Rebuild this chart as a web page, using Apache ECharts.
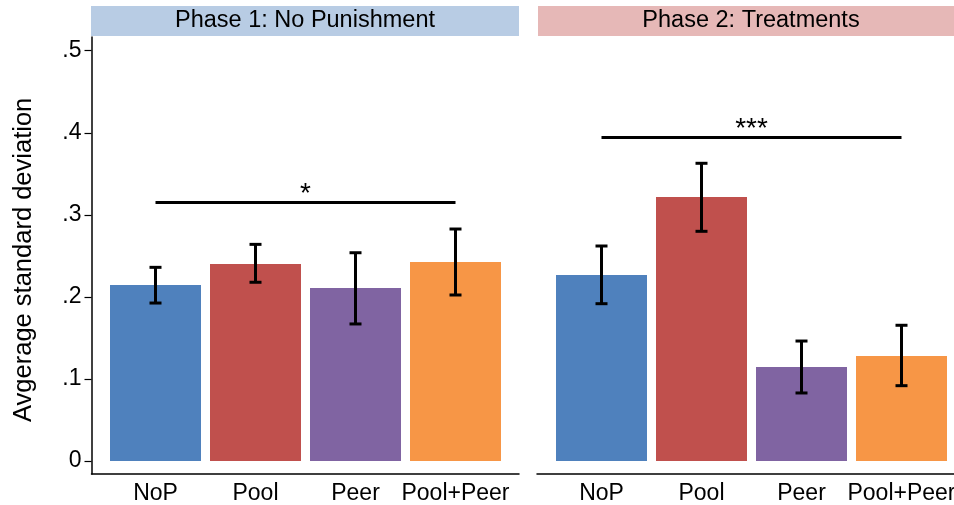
<!DOCTYPE html>
<html>
<head>
<meta charset="utf-8">
<script src="https://cdn.jsdelivr.net/npm/echarts@6/dist/echarts.min.js"></script>
<style>
html,body{margin:0;padding:0;background:#fff;}
#chart{width:954px;height:505px;}
</style>
</head>
<body>
<div id="chart"></div>
<script>
// ---- data ----
var categories = ['NoP', 'Pool', 'Peer', 'Pool+Peer'];
var panelTitles = ['Phase 1: No Punishment', 'Phase 2: Treatments'];
var phase1Mean = [0.2145, 0.240, 0.2108, 0.2425];
var phase1Low  = [0.1925, 0.2178, 0.167, 0.2023];
var phase1High = [0.236, 0.264, 0.2538, 0.2827];
var phase2Mean = [0.2267, 0.3217, 0.1146, 0.128];
var phase2Low  = [0.1917, 0.2799, 0.0829, 0.0918];
var phase2High = [0.262, 0.3628, 0.1462, 0.1654];
var sigLevel = [0.3156, 0.3948];
var sigLabel = ['*', '***'];
var yTicks = [0, 0.1, 0.2, 0.3, 0.4, 0.5];
var yTitle = 'Avgerage standard deviation';

// ---- style ----
var barColors = ['#4f81bd', '#c0504d', '#8064a2', '#f79646'];
var headerColors = ['#b8cce4', '#e6b8b7'];
var FONT = '"Liberation Sans", Arial, sans-serif';

var chart = echarts.init(document.getElementById('chart'), null, {renderer: 'canvas'});

function barData(vals) {
  return vals.map(function (v, i) {
    return {value: v, itemStyle: {color: barColors[i]}};
  });
}
function errData(lo, hi) {
  return lo.map(function (l, i) { return [i, l, hi[i]]; });
}
function renderErr(params, api) {
  var x = api.value(0);
  var pHi = api.coord([x, api.value(2)]);
  var pLo = api.coord([x, api.value(1)]);
  var hw = 6;
  var st = {stroke: '#000', lineWidth: 3};
  return {type: 'group', children: [
    {type: 'line', shape: {x1: pHi[0], y1: pHi[1], x2: pLo[0], y2: pLo[1]}, style: st},
    {type: 'line', shape: {x1: pHi[0] - hw, y1: pHi[1], x2: pHi[0] + hw, y2: pHi[1]}, style: st},
    {type: 'line', shape: {x1: pLo[0] - hw, y1: pLo[1], x2: pLo[0] + hw, y2: pLo[1]}, style: st}
  ]};
}
function sigMark(level, label) {
  return {
    silent: true,
    symbol: ['none', 'none'],
    animation: false,
    lineStyle: {color: '#000', width: 3, type: 'solid'},
    label: {show: true, position: 'middle', formatter: label, color: '#000',
            fontFamily: FONT, fontSize: 28, lineHeight: 14, distance: 1},
    data: [[{coord: [categories[0], level]}, {coord: [categories[categories.length - 1], level]}]]
  };
}

var catAxisBase = {
  type: 'category', data: categories, boundaryGap: true,
  axisLine: {show: false}, axisTick: {show: false},
  axisLabel: {color: '#000', fontFamily: FONT, fontSize: 23, margin: 21, interval: 0}
};
var valAxisBase = {
  type: 'value', min: 0, max: 0.5, interval: 0.1,
  splitLine: {show: false}, axisLine: {show: false}
};

var option = {
  animation: false,
  backgroundColor: '#fff',
  grid: [
    {left: 105.5, width: 400, top: 50.7, height: 410.3, outerBoundsMode: 'none', containLabel: false},
    {left: 551.5, width: 400, top: 50.7, height: 410.3, outerBoundsMode: 'none', containLabel: false},
    {left: 91.5, width: 427.5, top: 37, height: 437, outerBoundsMode: 'none', containLabel: false},
    {left: 537, width: 430, top: 37, height: 437, outerBoundsMode: 'none', containLabel: false}
  ],
  xAxis: [
    Object.assign({}, catAxisBase, {gridIndex: 0}),
    Object.assign({}, catAxisBase, {gridIndex: 1}),
    {type: 'category', gridIndex: 2, data: [''], axisTick: {show: false}, axisLabel: {show: false},
     axisLine: {show: true, lineStyle: {color: '#000', width: 1.5}}},
    {type: 'category', gridIndex: 3, data: [''], axisTick: {show: false}, axisLabel: {show: false},
     axisLine: {show: true, lineStyle: {color: '#000', width: 1.5}}}
  ],
  yAxis: [
    Object.assign({}, valAxisBase, {
      gridIndex: 0, offset: 14,
      axisTick: {show: true, length: 7, lineStyle: {color: '#000', width: 1.2}},
      axisLabel: {color: '#000', fontFamily: FONT, fontSize: 23, margin: 10,
        formatter: function (v) { return v === 0 ? '0' : '.' + Math.round(v * 10); }},
      name: yTitle, nameLocation: 'middle', nameGap: 55,
      nameTextStyle: {color: '#000', fontFamily: FONT, fontSize: 25.5, padding: [0, 8, 0, 0]}
    }),
    Object.assign({}, valAxisBase, {gridIndex: 1, show: false}),
    {type: 'value', gridIndex: 2, min: 0, max: 1, splitLine: {show: false}, axisTick: {show: false},
     axisLabel: {show: false}, axisLine: {show: true, lineStyle: {color: '#000', width: 1.5}}},
    {type: 'value', gridIndex: 3, show: false, min: 0, max: 1}
  ],
  graphic: [
    {type: 'rect', left: 91, top: 6, shape: {width: 428, height: 30}, style: {fill: headerColors[0]}, silent: true},
    {type: 'rect', left: 538, top: 6, shape: {width: 416, height: 30}, style: {fill: headerColors[1]}, silent: true},
    {type: 'text', x: 305, y: 21, style: {text: panelTitles[0], fill: '#000', font: '23.5px ' + FONT,
      textAlign: 'center', textVerticalAlign: 'middle'}, silent: true},
    {type: 'text', x: 751, y: 21, style: {text: panelTitles[1], fill: '#000', font: '23.5px ' + FONT,
      textAlign: 'center', textVerticalAlign: 'middle'}, silent: true}
  ],
  series: [
    {type: 'bar', xAxisIndex: 0, yAxisIndex: 0, barWidth: '91%', data: barData(phase1Mean),
     markLine: sigMark(sigLevel[0], sigLabel[0])},
    {type: 'bar', xAxisIndex: 1, yAxisIndex: 1, barWidth: '91%', data: barData(phase2Mean),
     markLine: sigMark(sigLevel[1], sigLabel[1])},
    {type: 'custom', xAxisIndex: 0, yAxisIndex: 0, renderItem: renderErr, data: errData(phase1Low, phase1High), z: 5},
    {type: 'custom', xAxisIndex: 1, yAxisIndex: 1, renderItem: renderErr, data: errData(phase2Low, phase2High), z: 5}
  ]
};
chart.setOption(option);
</script>
</body>
</html>
